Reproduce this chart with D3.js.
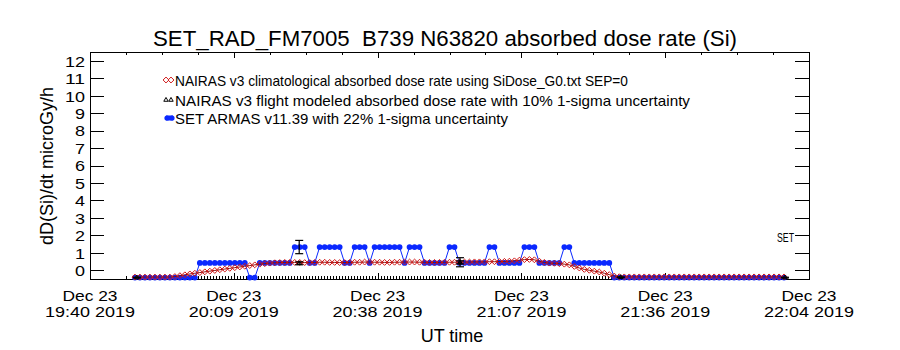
<!DOCTYPE html>
<html>
<head>
<meta charset="utf-8">
<script src="https://cdn.jsdelivr.net/npm/d3@7"></script>
<style>
  body { margin: 0; background: #fff; }
  svg { display: block; }
  text { font-family: "Liberation Sans", Arial, sans-serif; fill: #000; white-space: pre; }
</style>
</head>
<body>
<svg id="chart" width="900" height="350"></svg>
<script>
// ---- data ---------------------------------------------------------------
const startTime = Date.UTC(2019, 11, 23, 19, 40);
const endTime   = Date.UTC(2019, 11, 23, 22, 4);

// one sample per minute, minutes after 19:40 UT
const firstSampleMinute = 9;

// SET ARMAS absorbed dose rate (microGy/h)
const armasDose = [
  -0.42,-0.42,-0.42,-0.42,-0.42,-0.42,-0.42,-0.42,-0.42,-0.42,-0.42,-0.42,-0.42,
  0.42,0.42,0.42,0.42,0.42,0.42,0.42,0.42,0.42,0.42,
  -0.42,-0.42,
  0.42,0.42,0.42,0.42,0.42,0.42,0.42,
  1.33,1.33,1.33,
  0.42,0.42,
  1.33,1.33,1.33,1.33,1.33,
  0.42,0.42,
  1.33,1.33,1.33,
  0.42,
  1.33,1.33,1.33,1.33,1.33,1.33,
  0.42,
  1.33,1.33,1.33,
  0.42,0.42,0.42,0.42,0.42,
  1.33,1.33,
  0.42,0.42,0.42,0.42,0.42,0.42,
  1.33,1.33,
  0.42,0.42,0.42,0.42,0.42,
  1.33,1.33,1.33,
  0.42,0.42,0.42,0.42,0.42,
  1.33,1.33,
  0.42,0.42,0.42,0.42,0.42,0.42,0.42,0.42,
  -0.42,-0.42,-0.42,-0.42,-0.42,-0.42,-0.42,-0.42,-0.42,-0.42,-0.42,-0.42,
  -0.42,-0.42,-0.42,-0.42,-0.42,-0.42,-0.42,-0.42,-0.42,-0.42,-0.42,-0.42,
  -0.42,-0.42,-0.42,-0.42,-0.42,-0.42,-0.42,-0.42,-0.42,-0.42,-0.42
];

// NAIRAS v3 climatological absorbed dose rate (microGy/h)
const nairasClimDose = [
  -0.39,-0.39,-0.39,-0.39,-0.39,-0.39,-0.39,-0.39,
  -0.36,-0.31,-0.26,-0.21,-0.17,-0.13,-0.09,-0.05,-0.01,0.03,
  0.07,0.11,0.15,0.19,0.23,0.27,0.31,0.35,0.38,0.41,
  0.43,0.44,0.45,0.45,0.45,0.45,0.44,0.44,0.45,0.46,0.46,0.45,
  0.45,0.44,0.44,0.45,0.46,0.46,0.47,0.47,0.46,0.46,0.45,0.45,
  0.46,0.46,0.47,0.47,0.47,0.46,0.46,0.45,0.45,0.45,0.46,0.46,
  0.46,0.47,0.47,0.47,0.48,0.48,0.48,0.49,0.49,0.50,0.51,0.52,
  0.54,0.58,0.61,0.62,0.60,0.52,0.45,0.41,0.40,0.38,0.35,
  0.31,0.22,0.13,0.05,0.00,-0.05,-0.10,-0.17,-0.25,-0.33,-0.37,
  -0.38,-0.38,-0.38,-0.38,-0.38,-0.38,-0.38,-0.38,-0.38,-0.38,-0.38,
  -0.38,-0.38,-0.38,-0.38,-0.38,-0.38,-0.38,-0.38,-0.38,-0.38,-0.38,
  -0.38,-0.38,-0.38,-0.38,-0.38,-0.38,-0.38,-0.38,-0.38,-0.38,-0.38
];

// NAIRAS v3 flight-modeled points with 10% 1-sigma uncertainty
const flightMinutes = [9.4, 41.9, 74.1, 106.3, 139.2];
const flightDose    = [-0.42, 0.40, 0.45, -0.40, -0.42];
const flightSigma   = [0.02, 0.085, 0.09, 0.02, 0.02];

// ARMAS 22% 1-sigma uncertainty at the model comparison times
const armasErrMinutes = [41.9, 74.1];
const armasErrDose    = [1.33, 0.46];
const armasErrSigma   = [0.38, 0.26];

// axis labels
const yTickValues  = [0,1,2,3,4,5,6,7,8,9,10,11,12];
const xTickDay     = ["Dec 23","Dec 23","Dec 23","Dec 23","Dec 23","Dec 23"];
const xTickClock   = ["19:40 2019","20:09 2019","20:38 2019","21:07 2019","21:36 2019","22:04 2019"];

const legendLabels = [
  "NAIRAS v3 climatological absorbed dose rate using SiDose_G0.txt SEP=0",
  "NAIRAS v3 flight modeled absorbed dose rate with 10% 1-sigma uncertainty",
  "SET ARMAS v11.39 with 22% 1-sigma uncertainty"
];

// ---- layout -------------------------------------------------------------
const svg = d3.select("#chart");
const L = 90, R = 809, T = 52, B = 279;
const minute = m => new Date(startTime + m * 60000);

const x = d3.scaleUtc().domain([new Date(startTime), new Date(endTime)]).range([L, R]);
const y = d3.scaleLinear().domain([-0.5, 12.5]).range([B, T]);

const blue = "#0a28ff", red = "#d01818", darkRed = "#8c0a0a";

const samples = armasDose.map((v, i) => ({ t: minute(firstSampleMinute + i), armas: v, clim: nairasClimDose[i] }));

// ---- axes ---------------------------------------------------------------
const span = endTime - startTime;
const majorTimes = xTickClock.map((_, i) => new Date(startTime + span * i / (xTickClock.length - 1)));
const minorTimes = d3.range(0, 21).map(i => new Date(startTime + span * i / 20));

function styleAxis(g) {
  g.select(".domain").remove();
  g.selectAll("line").attr("stroke", "#000").attr("shape-rendering", "crispEdges");
}

svg.append("g").attr("transform", `translate(0,${B})`)
  .call(d3.axisBottom(x).tickValues(minorTimes).tickSize(-3).tickFormat(""))
  .call(styleAxis);
svg.append("g").attr("transform", `translate(0,${B})`)
  .call(d3.axisBottom(x).tickValues(majorTimes).tickSize(-6).tickFormat(""))
  .call(styleAxis);
svg.append("g").attr("transform", `translate(0,${T})`)
  .call(d3.axisTop(x).tickValues(minorTimes).tickSize(-3).tickFormat(""))
  .call(styleAxis);
svg.append("g").attr("transform", `translate(0,${T})`)
  .call(d3.axisTop(x).tickValues(majorTimes).tickSize(-6).tickFormat(""))
  .call(styleAxis);

// sample-time rug along the bottom axis over the flight
const rugStart = minute(firstSampleMinute).getTime();
const rugEnd = minute(firstSampleMinute + armasDose.length - 1).getTime();
const rugTimes = d3.range(rugStart, rugEnd + 1, 36000).map(d => new Date(d));
svg.append("g").attr("transform", `translate(0,${B})`)
  .call(d3.axisBottom(x).tickValues(rugTimes).tickSize(-3).tickFormat(""))
  .call(styleAxis);

// x tick labels (two lines)
const xl = svg.append("g").attr("font-size", 14).attr("text-anchor", "middle");
majorTimes.forEach((d, i) => {
  xl.append("text").attr("x", x(d)).attr("y", 301)
    .attr("textLength", 55).attr("lengthAdjust", "spacingAndGlyphs").text(xTickDay[i]);
  xl.append("text").attr("x", x(d)).attr("y", 317)
    .attr("textLength", 90).attr("lengthAdjust", "spacingAndGlyphs").text(xTickClock[i]);
});

const yl = svg.append("g").attr("transform", `translate(${L},0)`)
  .call(d3.axisLeft(y).tickValues(yTickValues).tickSize(-14).tickPadding(5).tickFormat(d3.format("d")))
  .call(styleAxis);
yl.selectAll("text")
  .attr("font-size", 15)
  .attr("font-family", '"Liberation Sans", Arial, sans-serif')
  .attr("fill", "#000")
  .attr("dy", "0.36em")
  .attr("textLength", d => String(d).length * 10)
  .attr("lengthAdjust", "spacingAndGlyphs");

svg.append("g").attr("transform", `translate(${R},0)`)
  .call(d3.axisRight(y).tickValues(yTickValues).tickSize(-14).tickFormat(""))
  .call(styleAxis);

svg.append("rect").attr("x", L).attr("y", T).attr("width", R - L).attr("height", B - T)
  .attr("fill", "none").attr("stroke", "#000").attr("shape-rendering", "crispEdges");

// ---- series -------------------------------------------------------------
const armasLine = d3.line().x(d => x(d.t)).y(d => y(d.armas));
svg.append("path").datum(samples).attr("d", armasLine)
  .attr("fill", "none").attr("stroke", blue).attr("stroke-width", 1);
svg.append("g").selectAll("circle").data(samples).join("circle")
  .attr("cx", d => x(d.t)).attr("cy", d => y(d.armas)).attr("r", 2.9).attr("fill", blue);

const climLine = d3.line().x(d => x(d.t)).y(d => y(d.clim));
svg.append("path").datum(samples).attr("d", climLine)
  .attr("fill", "none").attr("stroke", darkRed).attr("stroke-width", 1);
const diamond = d3.symbol().type(d3.symbolDiamond2).size(22);
svg.append("g").selectAll("path").data(samples).join("path")
  .attr("transform", d => `translate(${x(d.t)},${y(d.clim)})`)
  .attr("d", diamond).attr("fill", "none").attr("stroke", red).attr("stroke-width", 1);

// error bars
function errorBar(g, m, v, s, cap) {
  const cx = x(minute(m)), y0 = y(v - s), y1 = y(v + s);
  g.append("line").attr("x1", cx).attr("x2", cx).attr("y1", y0).attr("y2", y1);
  g.append("line").attr("x1", cx - cap).attr("x2", cx + cap).attr("y1", y0).attr("y2", y0);
  g.append("line").attr("x1", cx - cap).attr("x2", cx + cap).attr("y1", y1).attr("y2", y1);
}
const eb = svg.append("g").attr("stroke", "#000").attr("stroke-width", 1.2);
armasErrMinutes.forEach((m, i) => errorBar(eb, m, armasErrDose[i], armasErrSigma[i], 4));
flightMinutes.forEach((m, i) => errorBar(eb, m, flightDose[i], flightSigma[i], 4));

const tri = d3.symbol().type(d3.symbolTriangle2).size(14);
svg.append("g").selectAll("path").data(flightMinutes).join("path")
  .attr("transform", (m, i) => `translate(${x(minute(m))},${y(flightDose[i])})`)
  .attr("d", tri).attr("fill", "none").attr("stroke", "#000").attr("stroke-width", 1);

// ---- legend -------------------------------------------------------------
const legendY = [80, 100, 118];
const legendEnd = [628, 690, 508];
const lg = svg.append("g");
[166, 171].forEach(cx => {
  lg.append("path").attr("transform", `translate(${cx},${legendY[0]})`).attr("d", diamond)
    .attr("fill", "none").attr("stroke", red);
  lg.append("path").attr("transform", `translate(${cx},${legendY[1]})`).attr("d", tri)
    .attr("fill", "none").attr("stroke", "#000");
  lg.append("circle").attr("cx", cx + 1).attr("cy", legendY[2]).attr("r", 2.6).attr("fill", blue);
});
lg.append("line").attr("x1", 166).attr("x2", 173).attr("y1", legendY[2]).attr("y2", legendY[2])
  .attr("stroke", blue).attr("stroke-width", 5);
legendLabels.forEach((s, i) => {
  lg.append("text").attr("x", 175).attr("y", legendY[i] + 5.5).attr("font-size", 15)
    .attr("textLength", legendEnd[i] - 175).attr("lengthAdjust", "spacingAndGlyphs").text(s);
});

// ---- titles -------------------------------------------------------------
svg.append("text").attr("x", 445).attr("y", 46).attr("text-anchor", "middle").attr("font-size", 22)
  .attr("textLength", 584).attr("lengthAdjust", "spacingAndGlyphs")
  .text("SET_RAD_FM7005  B739 N63820 absorbed dose rate (Si)");

svg.append("text").attr("transform", "translate(53,166) rotate(-90)").attr("text-anchor", "middle")
  .attr("font-size", 18).text("dD(Si)/dt microGy/h");

svg.append("text").attr("x", 452).attr("y", 342).attr("text-anchor", "middle").attr("font-size", 18)
  .text("UT time");

svg.append("text").attr("x", 777).attr("y", 242).attr("font-size", 13)
  .attr("textLength", 17).attr("lengthAdjust", "spacingAndGlyphs").text("SET");
</script>
</body>
</html>
